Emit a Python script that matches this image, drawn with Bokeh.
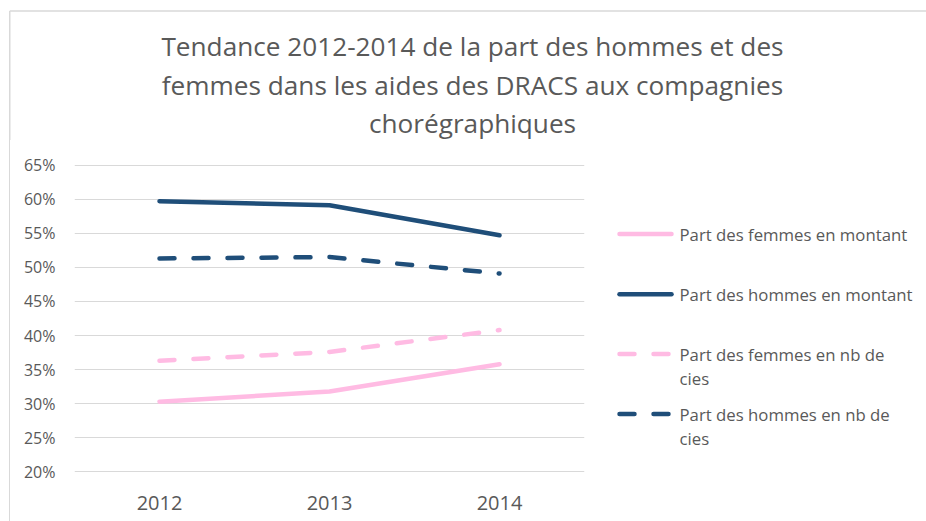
from bokeh.plotting import figure
from bokeh.layouts import column, row
from bokeh.models import FactorRange, Range1d, FixedTicker, NumeralTickFormatter, Spacer
from bokeh.core.properties import value
from bokeh.embed import file_html
from bokeh.resources import INLINE

# ---- data ----
years = ["2012", "2013", "2014"]
femmes_montant = [0.303, 0.318, 0.358]
hommes_montant = [0.597, 0.591, 0.547]
femmes_nb = [0.363, 0.376, 0.408]
hommes_nb = [0.513, 0.515, 0.491]
y_ticks = [0.20, 0.25, 0.30, 0.35, 0.40, 0.45, 0.50, 0.55, 0.60, 0.65]
title_lines = ["Tendance 2012-2014 de la part des hommes et des",
               "femmes dans les aides des DRACS aux compagnies",
               "chorégraphiques"]
legend_labels = [["Part des femmes en montant"],
                 ["Part des hommes en montant"],
                 ["Part des femmes en nb de", "cies"],
                 ["Part des hommes en nb de", "cies"]]

PINK = "#FFBBE3"
NAVY = "#1F4E79"
TXT = "#595959"
BORDER = "#D9D9D9"
FONT = "Open Sans"

series = [
    (femmes_montant, PINK, "solid"),
    (hommes_montant, NAVY, "solid"),
    (femmes_nb, PINK, "15 19"),
    (hommes_nb, NAVY, "15 19"),
]

TOP_H = 140
BOT_H = 521 - TOP_H
FRAME_TOP, FRAME_BOT = 163, 473          # page pixels of the chart frame


def bare(width, height, xr, yr, **kw):
    fig = figure(width=width, height=height, output_backend="svg", toolbar_location=None,
                 x_range=xr, y_range=yr, x_axis_location=None, y_axis_location=None,
                 **kw)
    fig.grid.visible = False
    fig.outline_line_color = None
    fig.background_fill_color = "white"
    fig.border_fill_color = "white"
    return fig


# ---- title area (pixel coordinates, y downward) ----
tf = bare(926, TOP_H, Range1d(0, 926), Range1d(TOP_H, 0), min_border=0)
tf.segment(x0=[9.25, 9.25], y0=[10.5, 10.5], x1=[926, 9.25], y1=[10.5, TOP_H],
           line_color=BORDER, line_width=1.5)
tf.text(x=[472, 472, 472], y=[45, 84.5, 122], text=title_lines,
        text_align="center", text_baseline="alphabetic",
        text_font=value(FONT), text_font_size="26.2px", text_color=TXT)

# ---- left strip carrying the chart border ----
strip = Spacer(width=10, height=BOT_H,
               styles={"box-sizing": "border-box", "border-right": "1.5px solid " + BORDER})

# ---- main chart ----
p = figure(width=580, height=BOT_H, output_backend="svg", toolbar_location=None,
           x_range=FactorRange(factors=years, range_padding=0),
           y_range=Range1d(0.1978, 0.6522),
           min_border_left=64, min_border_right=6,
           min_border_top=FRAME_TOP - TOP_H, min_border_bottom=521 - FRAME_BOT)
p.outline_line_color = None
p.background_fill_color = "white"
p.border_fill_color = "white"
p.yaxis.ticker = FixedTicker(ticks=y_ticks)
p.yaxis.formatter = NumeralTickFormatter(format="0%")
for ax in (p.xaxis[0], p.yaxis[0]):
    ax.axis_line_color = None
    ax.major_tick_line_color = None
    ax.minor_tick_line_color = None
    ax.major_tick_in = 0
    ax.major_tick_out = 0
    ax.major_label_text_color = TXT
    ax.major_label_text_font = FONT
p.yaxis.major_label_text_font_size = "16px"
p.yaxis.major_label_standoff = 19
p.xaxis.major_label_text_font_size = "20px"
p.xaxis.major_label_standoff = 22
p.xgrid.grid_line_color = None
p.ygrid.grid_line_color = BORDER
p.ygrid.grid_line_width = 1

for vals, col, dash in series:
    p.line(x=years, y=vals, line_color=col, line_width=4.5,
           line_dash=dash, line_cap="round", line_join="round")

# ---- legend area (page pixel coordinates, y downward; frame aligned with chart) ----
lf = bare(336, BOT_H, Range1d(590, 926), Range1d(FRAME_BOT, FRAME_TOP),
          min_border_left=0, min_border_right=0,
          min_border_top=FRAME_TOP - TOP_H, min_border_bottom=521 - FRAME_BOT)
glyph_y = [233.5, 293.8, 353.5, 413.5]
text_y = [[234], [294], [354, 378], [414, 438]]
for (vals, col, dash), gy in zip(series, glyph_y):
    lf.line(x=[619, 671], y=[gy, gy], line_color=col, line_width=4.5,
            line_dash=dash, line_cap="round")
tx, ty, tt = [], [], []
for lines, ys in zip(legend_labels, text_y):
    for t, yy in zip(lines, ys):
        tx.append(679)
        ty.append(yy)
        tt.append(t)
lf.text(x=tx, y=ty, text=tt, text_align="left", text_baseline="alphabetic",
        text_font=value(FONT), text_font_size="16.75px", text_color=TXT)

layout = column(tf, row(strip, p, lf, spacing=0), spacing=0)
open("out.html", "w").write(file_html(layout, INLINE))
